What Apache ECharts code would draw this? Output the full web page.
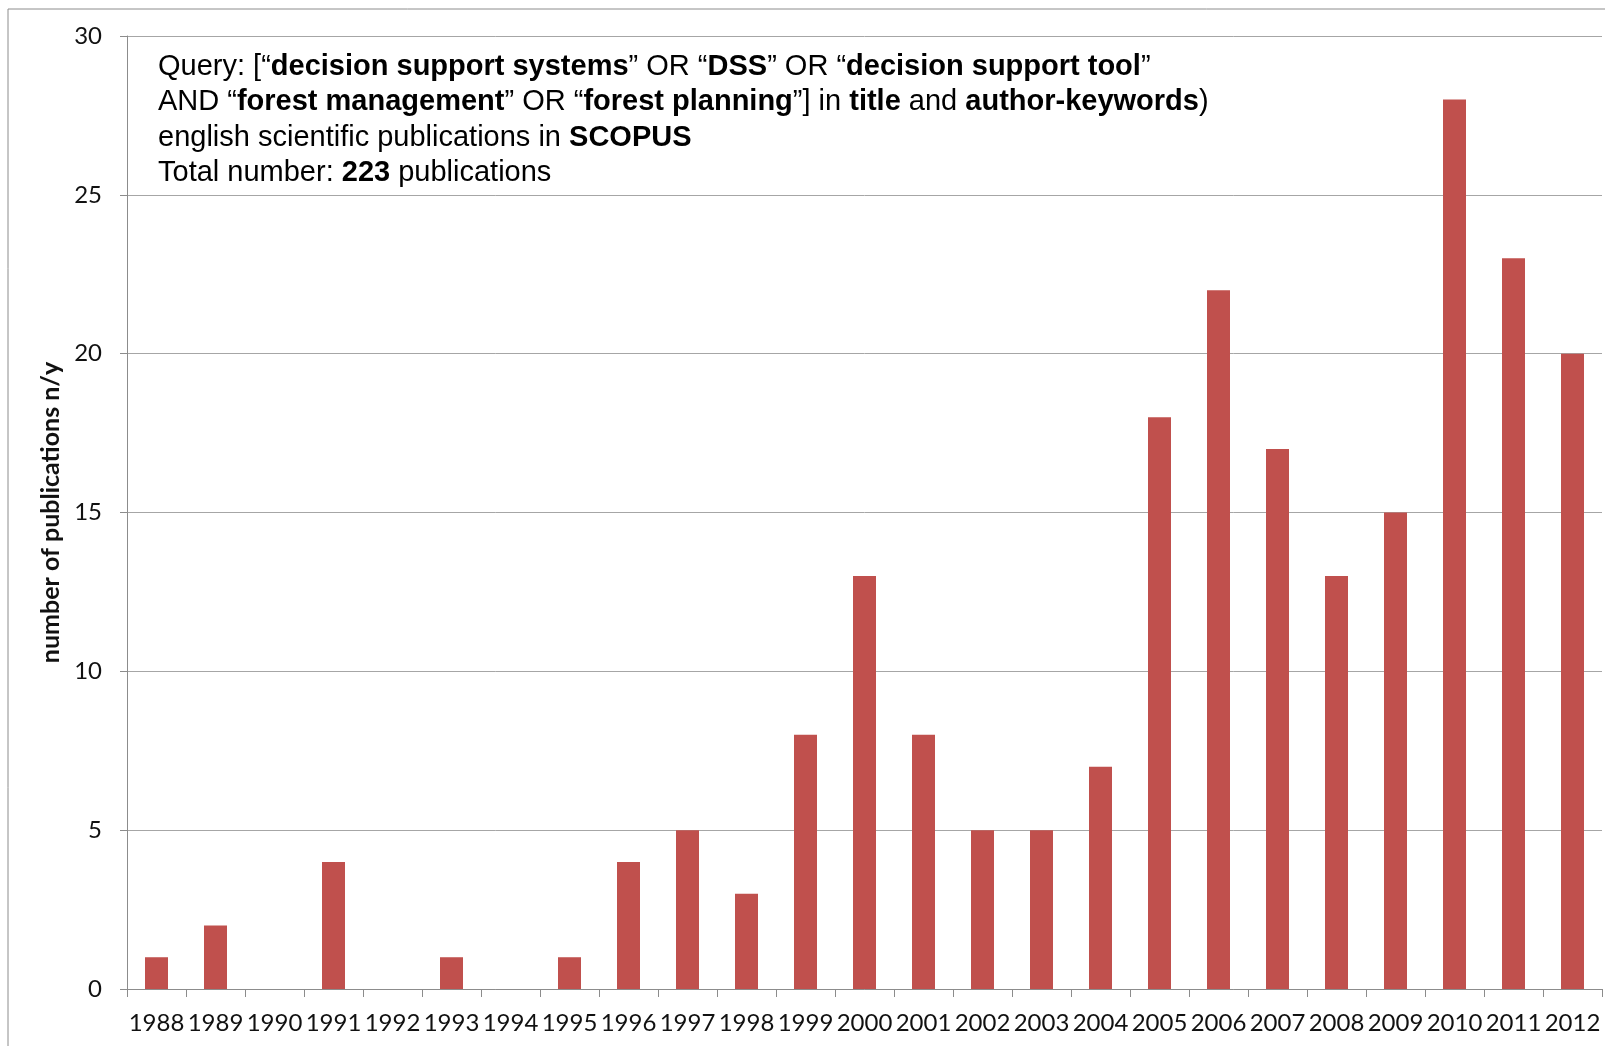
<!DOCTYPE html>
<html>
<head>
<meta charset="utf-8">
<script src="https://cdn.jsdelivr.net/npm/echarts@6/dist/echarts.min.js"></script>
<style>
  html, body { margin: 0; padding: 0; background: #fff; }
  #chart { width: 1605px; height: 1046px; }
</style>
</head>
<body>
<div id="chart"></div>
<script>
// Publications per year (SCOPUS query on forest management DSS)
const years = ['1988','1989','1990','1991','1992','1993','1994','1995','1996','1997','1998','1999','2000',
               '2001','2002','2003','2004','2005','2006','2007','2008','2009','2010','2011','2012'];
const publications = [1, 2, 0, 4, 0, 1, 0, 1, 4, 5, 3, 8, 13, 8, 5, 5, 7, 18, 22, 17, 13, 15, 28, 23, 20];
const yTicks = { min: 0, max: 30, interval: 5 };

const chart = echarts.init(document.getElementById('chart'), null, { renderer: 'canvas' });

const axisFont = 'Lato, "Open Sans", sans-serif';
const noteFont = '"Liberation Sans", Arial, sans-serif';
const noteText = [
  '{n|Query: [“}{b|decision support systems}{n|” OR “}{b|DSS}{n|” OR “}{b|decision support tool}{n|”}',
  '{n|AND “}{b|forest management}{n|” OR “}{b|forest planning}{n|”] in }{b|title}{n| and }{b|author-keywords}{n|)}',
  '{n|english scientific publications in }{b|SCOPUS}',
  '{n|Total number: }{b|223}{n| publications}'
].join('\n');

chart.setOption({
  animation: false,
  backgroundColor: '#ffffff',
  grid: { left: 127, right: 3, top: 36, bottom: 57, containLabel: false },
  xAxis: {
    type: 'category',
    data: years,
    boundaryGap: true,
    axisLine: { lineStyle: { color: '#8c8c8c', width: 1 } },
    axisTick: { show: true, alignWithLabel: false, length: 8, lineStyle: { color: '#8c8c8c' } },
    axisLabel: {
      interval: 0, margin: 22, color: '#111',
      fontFamily: axisFont, fontSize: 24
    },
    splitLine: { show: false }
  },
  yAxis: {
    type: 'value',
    min: yTicks.min, max: yTicks.max, interval: yTicks.interval,
    name: 'number of publications n/y',
    nameLocation: 'middle',
    nameGap: 62,
    nameTextStyle: { fontFamily: axisFont, fontWeight: 'bold', fontSize: 25, color: '#111' },
    axisLine: { show: true, lineStyle: { color: '#8c8c8c', width: 1 } },
    axisTick: { show: true, length: 7, lineStyle: { color: '#8c8c8c' } },
    axisLabel: { margin: 25, color: '#111', fontFamily: axisFont, fontSize: 24 },
    splitLine: { show: true, lineStyle: { color: '#a6a6a6', width: 1 } }
  },
  series: [{
    type: 'bar',
    data: publications,
    barWidth: 23,
    itemStyle: { color: '#c0504d' }
  }],
  graphic: [
    {
      type: 'rect',
      shape: { x: 8, y: 9, width: 1800, height: 1200 },
      style: { fill: 'none', stroke: '#8c8c8c', lineWidth: 1 },
      silent: true, z: -1
    },
    {
      type: 'text',
      left: 158, top: 49,
      style: {
        text: noteText,
        lineHeight: 35.5,
        rich: {
          n: { fontFamily: noteFont, fontSize: 29, color: '#111', lineHeight: 35.5 },
          b: { fontFamily: noteFont, fontSize: 29, fontWeight: 'bold', color: '#111', lineHeight: 35.5 }
        }
      },
      z: 10
    }
  ]
});
</script>
</body>
</html>
